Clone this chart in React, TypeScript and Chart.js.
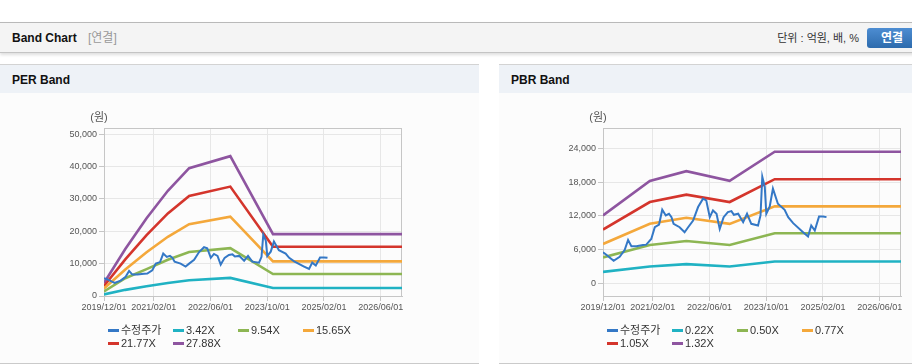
import React, { useEffect, useRef } from "react";
import { Chart, registerables } from "chart.js";

Chart.register(...registerables);

const FONT = '"Liberation Sans", "Noto Sans CJK KR", Arial, sans-serif';

// ---- shared axis data ----
const xAxisStart = "2019/12/01";
const xAxisEnd = "2026/12/01";
const xTickLabels = ["2019/12/01", "2021/02/01", "2022/06/01", "2023/10/01", "2025/02/01", "2026/06/01"];
const unitLabel = "(원)";

// ---- adjusted stock price (수정주가) ----
const priceDates = [
  "2019/12/01", "2019/12/29", "2020/03/01", "2020/04/22", "2020/06/04", "2020/07/03", "2020/08/01", "2020/09/13", "2020/11/10", "2020/12/07",
  "2021/01/19", "2021/02/19", "2021/03/25", "2021/04/22", "2021/05/22", "2021/06/19", "2021/07/10", "2021/07/28", "2021/09/19", "2021/11/01",
  "2021/12/01", "2022/01/13", "2022/02/25", "2022/04/07", "2022/05/04", "2022/06/04", "2022/07/01", "2022/08/01", "2022/08/28", "2022/10/01",
  "2022/11/07", "2022/12/07", "2022/12/28", "2023/02/04", "2023/03/16", "2023/04/19", "2023/05/25", "2023/07/22", "2023/08/13", "2023/08/28",
  "2023/09/19", "2023/10/02", "2023/11/01", "2023/11/28", "2024/01/10", "2024/03/07", "2024/04/07", "2024/05/19", "2024/08/13", "2024/09/25",
  "2024/10/22", "2024/11/22", "2024/12/28", "2025/02/01", "2025/03/01",
];
const priceValues = [
  5540, 5120, 4050, 4760, 5960, 7740, 6610, 6610, 6850, 6910,
  7920, 10000, 10480, 13100, 12090, 12390, 11790, 10600, 10000, 9110,
  10000, 11190, 13580, 15070, 14770, 11790, 12980, 12390, 9710, 11790,
  12680, 12860, 12210, 12390, 10900, 12390, 10600, 10300, 12090, 18940,
  17150, 12390, 13700, 16850, 14170, 13100, 11790, 10720, 9110, 8340,
  10300, 9410, 11910, 11910, 11790,
];

// ---- PER band ----
const perLabels = ["수정주가", "3.42X", "9.54X", "15.65X", "21.77X", "27.88X"];
const perBandDates = ["2019/12/01", "2020/06/01", "2020/12/01", "2021/06/01", "2021/12/01", "2022/11/19", "2023/11/20", "2026/12/01"];
const perBand342 = [500, 1900, 3000, 4000, 4850, 5600, 2450, 2450];
const perBand954 = [1400, 5500, 8300, 11200, 13600, 14800, 6800, 6800];
const perBand1565 = [2300, 8200, 13500, 18300, 22200, 24500, 10700, 10700];
const perBand2177 = [3100, 11300, 18800, 25500, 30900, 33800, 15200, 15200];
const perBand2788 = [4000, 14500, 24000, 32500, 39500, 43200, 19100, 19100];
const perYTicks = [0, 10000, 20000, 30000, 40000, 50000];
const perYMin = 0;
const perYMax = 51900;

// ---- PBR band ----
const pbrLabels = ["수정주가", "0.22X", "0.50X", "0.77X", "1.05X", "1.32X"];
const pbrBandDates = ["2019/12/01", "2021/01/07", "2021/11/16", "2022/11/22", "2023/12/13", "2026/12/01"];
const pbrBand022 = [2080, 3040, 3450, 3040, 3930, 3930];
const pbrBand050 = [4650, 6850, 7560, 6850, 8930, 8930];
const pbrBand077 = [7030, 10600, 11670, 10600, 13700, 13700];
const pbrBand105 = [9590, 14470, 15780, 14470, 18520, 18520];
const pbrBand132 = [12090, 18220, 19950, 18220, 23400, 23400];
const pbrYTicks = [0, 6000, 12000, 18000, 24000];
const pbrYMin = -2200;
const pbrYMax = 27600;

const seriesColors = ["#3478c6", "#20b2c3", "#8db653", "#f4a83b", "#d4352c", "#8e55a0"];

function monthOf(d: string): number {
  const [y, m, dd] = d.split("/").map(Number);
  const [y0, m0] = xAxisStart.split("/").map(Number);
  return (y - y0) * 12 + (m - m0) + (dd - 1) / 30;
}

const framePlugin = {
  id: "frame",
  beforeDatasetsDraw(chart: any) {
    const { ctx, chartArea: a } = chart;
    ctx.save();
    ctx.strokeStyle = "#c6c6c6";
    ctx.lineWidth = 1;
    ctx.strokeRect(a.left + 0.5, a.top + 0.5, a.right - a.left - 1, a.bottom - a.top);
    ctx.fillStyle = "#555";
    ctx.font = `11px ${FONT}`;
    ctx.textAlign = "center";
    ctx.textBaseline = "middle";
    ctx.fillText(unitLabel, a.left - 5, a.top - 10);
    ctx.restore();
  },
};

type BandProps = {
  title: string;
  labels: string[];
  bandDates: string[];
  bands: number[][];
  yTicks: number[];
  yMin: number;
  yMax: number;
  left: number;
};

function BandPanel({ title, labels, bandDates, bands, yTicks, yMin, yMax, left }: BandProps) {
  const ref = useRef<HTMLCanvasElement | null>(null);

  useEffect(() => {
    if (!ref.current) return;
    const datasets: any[] = [
      {
        label: labels[0],
        data: priceDates.map((d, i) => ({ x: monthOf(d), y: priceValues[i] })),
        borderColor: seriesColors[0],
        borderWidth: 2,
        pointRadius: 0,
        tension: 0,
      },
      ...bands.map((vals, k) => ({
        label: labels[k + 1],
        data: bandDates.map((d, i) => ({ x: monthOf(d), y: vals[i] })),
        borderColor: seriesColors[k + 1],
        borderWidth: 2.6,
        pointRadius: 0,
        tension: 0,
      })),
    ];
    const xTickValues = xTickLabels.map(monthOf);
    const chart = new Chart(ref.current, {
      type: "line",
      data: { datasets },
      plugins: [framePlugin],
      options: {
        animation: false,
        responsive: false,
        events: [],
        layout: { padding: { top: 35, right: 77, left: 0, bottom: 0 } },
        plugins: { legend: { display: false }, tooltip: { enabled: false } },
        scales: {
          x: {
            type: "linear",
            min: 0,
            max: monthOf(xAxisEnd),
            afterBuildTicks: (s: any) => {
              s.ticks = xTickValues.map((v) => ({ value: v }));
            },
            afterFit: (s: any) => {
              s.height = 67;
            },
            ticks: {
              autoSkip: false,
              maxRotation: 0,
              padding: 1,
              color: "#555",
              font: { size: 9, family: FONT },
              callback: (v: any) => {
                const i = xTickValues.findIndex((t) => Math.abs(t - Number(v)) < 1e-6);
                return i >= 0 ? xTickLabels[i] : "";
              },
            },
            grid: { color: "#e7e7e7", tickColor: "#c6c6c6", tickLength: 5 },
            border: { color: "#c6c6c6" },
          },
          y: {
            type: "linear",
            min: yMin,
            max: yMax,
            afterBuildTicks: (s: any) => {
              s.ticks = yTicks.map((v) => ({ value: v }));
            },
            afterFit: (s: any) => {
              s.width = 104;
            },
            ticks: {
              padding: 2,
              color: "#555",
              font: { size: 9, family: FONT },
              callback: (v: any) => Number(v).toLocaleString("en-US"),
            },
            grid: { color: "#e7e7e7", tickColor: "#c6c6c6", tickLength: 5 },
            border: { color: "#c6c6c6" },
          },
        },
      } as any,
    });
    return () => chart.destroy();
  }, []);

  return (
    <div
      style={{
        position: "absolute",
        left,
        top: 64,
        width: 479,
        height: 300,
        boxSizing: "border-box",
        borderTop: "1px solid #d3d3d3",
        borderBottom: "1px solid #cacaca",
        background: "#fcfcfc",
      }}
    >
      <div
        style={{
          height: 28,
          background: "#eef2f7",
          fontWeight: "bold",
          fontSize: 12,
          lineHeight: "31px",
          paddingLeft: 12,
          color: "#111",
          overflow: "hidden",
        }}
      >
        {title}
      </div>
      <div style={{ position: "relative", width: 479, height: 270 }}>
        <canvas ref={ref} width={479} height={270} style={{ display: "block" }} />
        <div
          style={{
            position: "absolute",
            left: 108,
            top: 231,
            width: 260,
            display: "flex",
            flexWrap: "wrap",
            fontSize: 11,
            lineHeight: "13px",
            color: "#333",
          }}
        >
          {labels.map((lab, i) => (
            <div key={lab} style={{ width: 65, display: "flex", alignItems: "center", whiteSpace: "nowrap" }}>
              <span
                style={{
                  display: "inline-block",
                  width: 11,
                  height: 3,
                  background: seriesColors[i],
                  marginRight: 2,
                }}
              />
              <span>{lab}</span>
            </div>
          ))}
        </div>
      </div>
    </div>
  );
}

export default function App() {
  return (
    <div
      style={{
        position: "absolute",
        left: 0,
        top: 0,
        width: 912,
        height: 364,
        overflow: "hidden",
        background: "#fff",
        fontFamily: FONT,
      }}
    >
      <div
        style={{
          position: "absolute",
          left: 0,
          top: 22,
          width: 1000,
          height: 29,
          background: "#f4f4f4",
          borderTop: "1px solid #b9b9b9",
          borderBottom: "1px solid #c4c4c4",
          boxShadow: "0 2px 3px rgba(0,0,0,0.13)",
        }}
      >
        <span style={{ position: "absolute", left: 12, top: 1, lineHeight: "29px", fontSize: 12, fontWeight: "bold", color: "#111" }}>
          Band Chart
        </span>
        <span style={{ position: "absolute", left: 88, top: 1, lineHeight: "29px", fontSize: 12, color: "#999" }}>[연결]</span>
        <span style={{ position: "absolute", right: 141, top: 1, lineHeight: "29px", fontSize: 11, color: "#333", whiteSpace: "nowrap" }}>
          단위 : 억원, 배, %
        </span>
        <div
          style={{
            position: "absolute",
            left: 867,
            top: 5,
            width: 50,
            height: 20,
            borderRadius: 3,
            background: "linear-gradient(#4d8dd2, #2d6bad)",
            color: "#fff",
            fontWeight: "bold",
            fontSize: 12,
            lineHeight: "20px",
            textAlign: "center",
          }}
        >
          연결
        </div>
      </div>
      <BandPanel
        title="PER Band"
        labels={perLabels}
        bandDates={perBandDates}
        bands={[perBand342, perBand954, perBand1565, perBand2177, perBand2788]}
        yTicks={perYTicks}
        yMin={perYMin}
        yMax={perYMax}
        left={0}
      />
      <BandPanel
        title="PBR Band"
        labels={pbrLabels}
        bandDates={pbrBandDates}
        bands={[pbrBand022, pbrBand050, pbrBand077, pbrBand105, pbrBand132]}
        yTicks={pbrYTicks}
        yMin={pbrYMin}
        yMax={pbrYMax}
        left={499}
      />
    </div>
  );
}
